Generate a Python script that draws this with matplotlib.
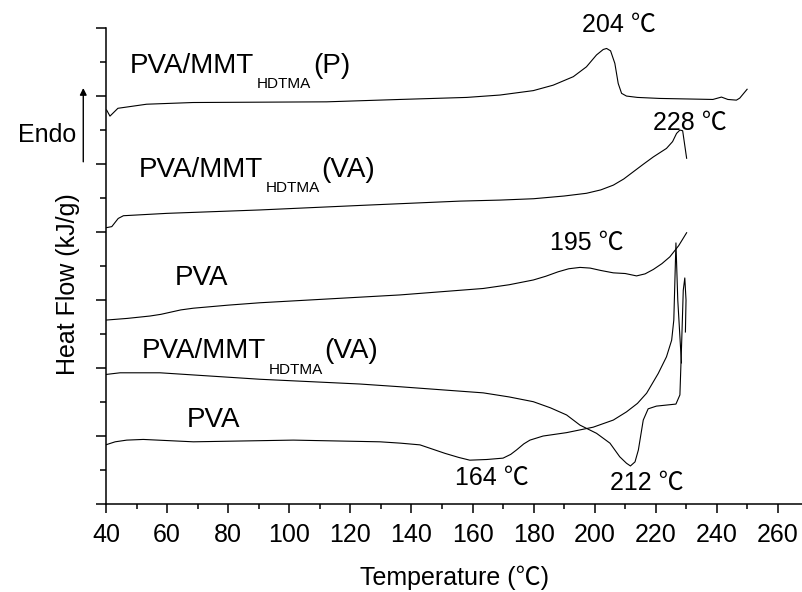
import matplotlib
matplotlib.use('Agg')
import matplotlib.pyplot as plt
from matplotlib.ticker import MultipleLocator, NullFormatter

plt.rcParams['font.family'] = ['Liberation Sans', 'Noto Sans CJK SC', 'DejaVu Sans']

# DSC traces (temperature in C, heat flow in arbitrary offset units)
t_mmt_p = [40.2, 41.3, 43.9, 53.3, 68.5, 112.2, 136.2, 158.1, 169.0, 179.9, 186.4, 193.0,
           197.3, 200.6, 202.8, 203.9, 205.2, 206.6, 207.7, 208.8, 210.4, 214.0, 221.3,
           238.7, 241.5, 243.6, 246.4, 247.5, 249.9]
q_mmt_p = [11.59, 11.41, 11.64, 11.76, 11.81, 11.83, 11.90, 11.96, 12.03, 12.16, 12.32, 12.57,
           12.86, 13.21, 13.37, 13.40, 13.33, 12.96, 12.37, 12.08, 12.00, 11.96, 11.93,
           11.90, 11.97, 11.90, 11.88, 11.94, 12.20]

t_mmt_va1 = [40.2, 41.9, 44.0, 45.7, 60.0, 90.4, 125.0, 155.9, 169.0, 180.0, 190.0, 197.3,
             202.0, 206.1, 209.5, 212.6, 216.0, 219.2, 223.5, 225.5, 226.8, 227.9, 228.8, 230.1]
q_mmt_va1 = [8.13, 8.16, 8.40, 8.48, 8.55, 8.65, 8.79, 8.91, 8.94, 8.98, 9.06, 9.14,
             9.24, 9.38, 9.56, 9.77, 10.00, 10.21, 10.46, 10.66, 10.90, 11.00, 10.98, 10.17]

t_pva1 = [39.9, 47.0, 54.4, 58.0, 61.0, 64.5, 68.6, 80.0, 90.4, 136.2, 163.5, 172.0, 179.9,
          184.0, 188.0, 191.5, 195.2, 198.5, 202.0, 206.1, 210.0, 213.7, 216.5, 219.2, 222.0,
          224.6, 227.5, 230.1]
q_pva1 = [5.41, 5.46, 5.53, 5.58, 5.64, 5.71, 5.76, 5.85, 5.92, 6.15, 6.34, 6.45, 6.59,
          6.70, 6.83, 6.92, 6.96, 6.94, 6.87, 6.80, 6.78, 6.71, 6.77, 6.90, 7.07,
          7.27, 7.60, 7.98]

t_mmt_va2 = [39.9, 44.6, 57.7, 90.4, 123.1, 136.2, 163.5, 172.0, 179.9, 185.5, 190.8, 195.2,
             200.6, 205.0, 208.2, 210.4, 211.7, 213.2, 214.3, 215.9, 217.5, 220.2, 226.6,
             227.9, 228.5, 229.0, 229.5, 229.9, 229.7]
q_mmt_va2 = [3.81, 3.86, 3.86, 3.67, 3.53, 3.45, 3.27, 3.15, 3.01, 2.83, 2.62, 2.32,
             2.08, 1.79, 1.39, 1.20, 1.12, 1.24, 1.59, 2.47, 2.80, 2.88, 2.94,
             3.21, 4.82, 6.29, 6.65, 6.00, 5.06]

t_pva2 = [39.9, 43.0, 46.8, 52.2, 68.6, 101.3, 129.7, 136.5, 142.8, 151.0, 155.5, 159.1,
          164.7, 170.0, 172.5, 174.4, 176.8, 178.8, 183.1, 190.8, 199.5, 206.1, 210.4,
          214.0, 217.0, 220.8, 223.5, 225.2, 225.9, 226.6, 227.2, 228.4]
q_pva2 = [1.74, 1.83, 1.88, 1.90, 1.83, 1.88, 1.83, 1.79, 1.74, 1.49, 1.37, 1.29,
          1.31, 1.35, 1.46, 1.59, 1.77, 1.88, 2.00, 2.10, 2.26, 2.47, 2.71,
          2.96, 3.26, 3.84, 4.33, 4.82, 5.41, 7.68, 6.00, 4.15]

traces = [(t_mmt_p, q_mmt_p), (t_mmt_va1, q_mmt_va1), (t_pva1, q_pva1),
          (t_mmt_va2, q_mmt_va2), (t_pva2, q_pva2)]

fig = plt.figure(figsize=(8.03, 5.92), dpi=100)
ax = fig.add_axes([0.132, 0.1486, 0.868, 0.804])

for t, q in traces:
    ax.plot(t, q, color='black', lw=0.8)

ax.set_xlim(40, 268.2)
ax.set_ylim(0, 14)
ax.spines['top'].set_visible(False)
ax.spines['right'].set_visible(False)
ax.spines['left'].set_linewidth(1.1)
ax.spines['bottom'].set_linewidth(1.1)

ax.xaxis.set_major_locator(MultipleLocator(20))
ax.xaxis.set_minor_locator(MultipleLocator(10))
ax.yaxis.set_major_locator(MultipleLocator(2))
ax.yaxis.set_minor_locator(MultipleLocator(1))
ax.yaxis.set_major_formatter(NullFormatter())
ax.tick_params(axis='x', which='major', direction='out', length=6.5, width=1.1,
               labelsize=18, pad=7.5)
ax.tick_params(axis='x', which='minor', direction='out', length=3.6, width=1.1)
ax.tick_params(axis='y', which='major', direction='out', length=7, width=1.1)
ax.tick_params(axis='y', which='minor', direction='out', length=4.3, width=1.1)

ax.set_xlabel('Temperature (℃)', fontsize=18, labelpad=13)
ax.text(-0.054, 0.462, 'Heat Flow (kJ/g)', rotation=90, fontsize=18,
        ha='center', va='center', transform=ax.transAxes)
ax.text(-0.042, 0.761, 'Endo', fontsize=18, ha='right', va='baseline',
        transform=ax.transAxes)
ax.annotate('', xy=(-0.0326, 0.874), xytext=(-0.0326, 0.719), xycoords='axes fraction',
            arrowprops=dict(arrowstyle='-|>', lw=1, color='black', mutation_scale=10,
                            shrinkA=0, shrinkB=0))


def sub_label(x, y, main, sub, tail):
    t1 = ax.text(x, y, main, fontsize=20, va='baseline')
    t2 = ax.annotate(sub, xy=(1, 0), xycoords=t1, xytext=(2, -9),
                     textcoords='offset points', fontsize=11, va='bottom')
    ax.annotate(tail, xy=(1, 0), xycoords=(t2, t1), xytext=(1, 0),
                textcoords='offset points', fontsize=20, va='bottom')


sub_label(47.9, 12.68, 'PVA/MMT', 'HDTMA', '(P)')
sub_label(50.6, 9.63, 'PVA/MMT', 'HDTMA', '(VA)')
sub_label(51.7, 4.29, 'PVA/MMT', 'HDTMA', '(VA)')
ax.text(62.6, 6.44, 'PVA', fontsize=20, va='baseline')
ax.text(66.4, 2.27, 'PVA', fontsize=20, va='baseline')

peak_labels = ['204 ℃', '228 ℃', '195 ℃', '164 ℃', '212 ℃']
peak_x = [195.7, 219.2, 185.3, 154.2, 205.0]
peak_y = [13.89, 11.0, 7.47, 0.56, 0.43]
for s, x, y in zip(peak_labels, peak_x, peak_y):
    ax.text(x, y, s, fontsize=18, va='baseline')

plt.savefig('out.png', dpi=100)
